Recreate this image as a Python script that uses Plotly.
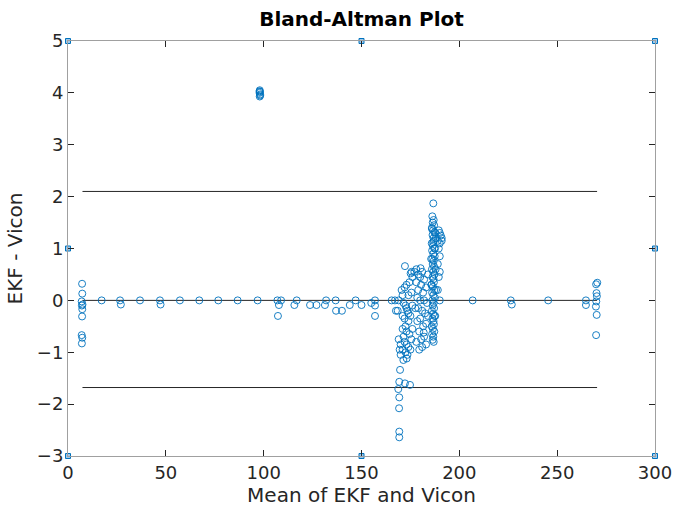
import plotly.graph_objects as go

# ---- data ----
mean_left = [7.2, 7.3, 7.0, 7.4, 7.1, 7.3, 7.2, 7.0, 7.3, 7.1,
             17.2, 26.6, 27.0, 36.8, 47.0, 47.3, 57.2, 67.1, 76.8, 86.7, 96.9,
             107.0, 107.8, 107.3, 108.9, 116.9, 115.7, 123.7, 127.0, 131.3, 131.9,
             136.8, 137.0, 140.0, 144.0, 147.0, 150.0, 155.0, 156.9, 156.9, 156.9,
             165.4, 167.1, 167.6]
diff_left = [0.32, 0.13, -0.02, -0.08, -0.10, -0.17, -0.31, -0.67, -0.72, -0.83,
             0.0, 0.0, -0.08, 0.0, 0.0, -0.08, 0.0, 0.0, 0.0, 0.0, 0.0,
             0.0, -0.09, -0.30, 0.0, 0.0, -0.09, -0.09, -0.09, -0.09, 0.0,
             0.0, -0.20, -0.20, -0.09, 0.0, -0.09, -0.05, 0.0, -0.10, -0.30,
             0.0, 0.0, -0.20]

mean_outlier = [98.0, 98.2, 97.9, 98.1, 98.0, 98.2, 97.9]
diff_outlier = [3.93, 3.97, 4.00, 4.02, 4.05, 3.95, 4.03]

mean_low = [169.7, 169.3, 172.2, 174.8, 168.8, 169.3, 169.2, 169.3, 169.3, 171.4, 173.1,
            169.0, 170.0, 169.5, 170.0, 168.5, 169.0]
diff_low = [-1.34, -1.57, -1.60, -1.63, -1.71, -1.87, -2.08, -2.53, -2.64, -1.15, -1.12,
            -0.75, -0.85, -0.95, -1.05, -0.20, 0.0]

mean_colA = [170.5, 171.0, 172.0, 173.0, 171.5, 172.5, 173.5, 171.0, 172.0, 174.0,
             172.5, 171.0, 173.0, 174.5, 171.5, 172.0, 173.0, 174.0, 171.0, 172.5,
             173.5, 175.0, 175.5, 176.0, 175.0, 176.0, 175.5, 174.5, 176.0, 175.1,
             174.0, 173.0, 174.0, 172.2, 175.6]
diff_colA = [0.20, 0.10, 0.25, 0.30, -0.05, -0.10, -0.20, -0.30, -0.35, -0.40,
             -0.50, -0.55, -0.60, -0.65, -0.70, -0.80, -0.85, -0.90, -0.95, -1.00,
             -1.05, -0.95, -0.75, -0.55, -0.30, -0.10, 0.15, 0.35, 0.45, 0.52,
             0.10, -0.15, -0.25, 0.66, 0.55]

mean_colB = [178.0, 179.0, 180.0, 181.0, 182.0, 180.5, 179.0, 181.5, 183.0, 178.5,
             180.0, 182.0, 183.5, 179.0, 181.0, 182.5, 180.0, 178.5, 183.0, 181.5,
             179.5, 182.0, 180.5, 178.0, 183.0, 181.0, 179.5, 184.0, 184.0, 177.5,
             178.0, 177.0, 180.2, 181.8]
diff_colB = [0.60, 0.50, 0.45, 0.55, 0.40, 0.30, 0.20, 0.15, 0.25, 0.05,
             0.0, 0.0, -0.05, -0.15, -0.20, -0.25, -0.35, -0.40, -0.45, -0.50,
             -0.60, -0.70, -0.75, -0.80, -0.85, -0.90, -0.95, 0.50, -0.30, -0.15,
             0.35, 0.55, 0.62, -0.62]

mean_colC = [186.7, 186.2, 186.9, 186.4, 187.1, 186.0, 186.6, 187.3, 186.3, 186.8,
             187.0, 185.9, 186.5, 187.2, 186.1, 186.7, 187.4, 186.2, 186.9, 186.4,
             187.1, 186.0, 186.6, 187.3, 186.3, 186.8, 187.0, 185.8, 186.5, 187.2,
             186.1, 186.7, 187.5, 186.2, 186.9, 186.4, 187.1, 186.0, 186.6, 187.3,
             186.3, 186.8, 187.0, 185.9, 186.5, 187.2, 186.1, 186.7, 186.4, 186.9,
             187.8, 188.0, 187.6, 187.9, 185.6, 185.7, 188.1, 187.7, 186.0, 186.6]
diff_colC = [1.87, 1.62, 1.55, 1.50, 1.45, 1.40, 1.35, 1.31, 1.26, 1.20,
             1.15, 1.10, 1.05, 1.00, 0.96, 0.90, 0.85, 0.80, 0.76, 0.70,
             0.65, 0.60, 0.55, 0.50, 0.45, 0.41, 0.35, 0.30, 0.26, 0.20,
             0.15, 0.10, 0.05, 0.0, -0.05, -0.10, -0.15, -0.20, -0.26, -0.30,
             -0.35, -0.40, -0.46, -0.50, -0.55, -0.60, -0.65, -0.70, -0.76, -0.80,
             1.30, 1.20, 1.00, 0.60, 0.80, 0.30, 0.20, -0.30, 1.38, 1.12]

mean_colD = [189.5, 190.0, 190.5, 191.0, 189.0, 190.0, 191.0, 189.5, 190.0, 189.0,
             190.0, 189.5, 189.0, 190.0]
diff_colD = [1.35, 1.30, 1.25, 1.20, 1.15, 1.10, 1.15, 1.00, 0.85, 0.70,
             0.55, 0.45, 0.20, 0.0]

mean_right = [206.8, 226.3, 226.8, 245.4, 264.7, 264.7, 270.5, 269.9, 270.1, 270.3,
              270.0, 269.8, 270.2, 269.9]
diff_right = [0.0, 0.0, -0.08, 0.0, 0.0, -0.09, 0.34, 0.31, 0.14, 0.08,
              -0.02, -0.12, -0.28, -0.67]

ref_lines = [0.0, 2.10, -1.68]
line_x = [7.4, 270.4]

edge_x = [0, 150, 300, 0, 300, 0, 150, 300]
edge_y = [5, 5, 5, 1, 1, -3, -3, -3]

x_ticks = [0, 50, 100, 150, 200, 250, 300]
y_ticks = [-3, -2, -1, 0, 1, 2, 3, 4, 5]

all_x = mean_left + mean_outlier + mean_low + mean_colA + mean_colB + mean_colC + mean_colD + mean_right
all_y = diff_left + diff_outlier + diff_low + diff_colA + diff_colB + diff_colC + diff_colD + diff_right

BLUE = "#0072BD"
FONT = "DejaVu Sans"

fig = go.Figure()
for yv in ref_lines:
    fig.add_trace(go.Scatter(x=line_x, y=[yv, yv], mode="lines",
                             line=dict(color="#262626", width=1), hoverinfo="skip"))
fig.add_trace(go.Scatter(x=all_x, y=all_y, mode="markers",
                         marker=dict(symbol="circle-open", size=7, color=BLUE,
                                     line=dict(width=0.9, color=BLUE))))
fig.add_trace(go.Scatter(x=edge_x, y=edge_y, mode="markers", cliponaxis=False,
                         marker=dict(symbol="square", size=5, color="#9cc8ec",
                                     line=dict(width=1, color=BLUE))))

axis_common = dict(showline=True, linecolor="#a0a0a0", linewidth=1, mirror="ticks",
                   ticks="inside", ticklen=6, tickcolor="#262626", showgrid=False,
                   zeroline=False, automargin=False,
                   tickfont=dict(family=FONT, size=18, color="#262626"))

fig.update_xaxes(range=[0, 300], tickvals=x_ticks, **axis_common,
                 title=dict(text="Mean of EKF and Vicon", standoff=5,
                            font=dict(family=FONT, size=20, color="#262626")))
fig.update_yaxes(range=[-3, 5], tickvals=y_ticks, **axis_common,
                 title=dict(text="EKF - Vicon", standoff=8,
                            font=dict(family=FONT, size=20, color="#262626")))

fig.update_layout(
    width=673, height=509, showlegend=False,
    plot_bgcolor="white", paper_bgcolor="white",
    margin=dict(l=68, r=18, t=41, b=53, autoexpand=False),
    title=dict(text="<b>Bland-Altman Plot</b>", x=0.5, xref="paper", xanchor="center",
               y=1 - 19 / 509, yanchor="middle", yref="container",
               automargin=False,
               font=dict(family=FONT, size=20, color="black")),
)

fig.write_html("out.html", config={"displayModeBar": False},
               post_script="document.body.style.margin='0';document.body.style.overflow='hidden';")
